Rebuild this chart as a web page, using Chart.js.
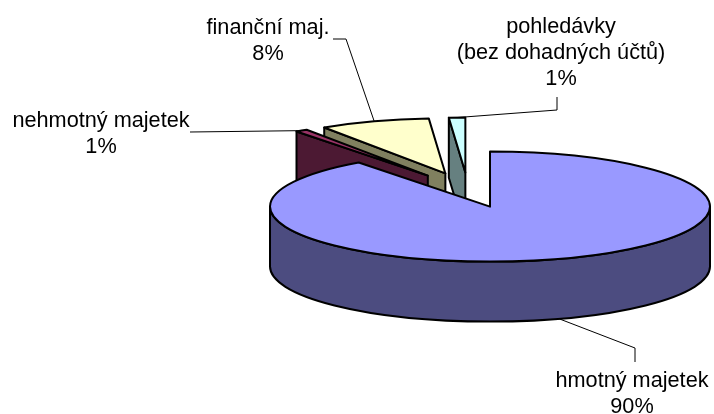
<!DOCTYPE html>
<html>
<head>
<meta charset="utf-8">
<script src="https://cdn.jsdelivr.net/npm/chart.js@4.4.0/dist/chart.umd.min.js"></script>
<style>
  html, body { margin: 0; padding: 0; background: #fff; }
  #wrap { width: 714px; height: 414px; }
</style>
</head>
<body>
<div id="wrap"><canvas id="pie" width="714" height="414"></canvas></div>
<script>
// data
const labels = [['hmotný majetek'], ['nehmotný majetek'], ['finanční maj.'], ['pohledávky', '(bez dohadných účtů)']];
const values = [90.0, 0.9, 8.1, 1.2];
const topColors = ['#9999ff', '#993366', '#ffffcc', '#ccffff'];
const sideColors = ['#4c4c80', '#4c1933', '#80805f', '#668080'];

// 3d look
const TILT = 0.25;     // ry / rx
const DEPTH = 60;      // height of the side walls
const EXPLODE = 70;    // distance of each slice from the center

// label placement : elbow of the leader line, end of the leader, first baseline
const labelLayout = [
  { pts: [[635, 348], [635, 362]], x: 632, y: 387 },
  { pts: [[190, 132]], x: 101, y: 127 },
  { pts: [[346, 39], [333, 39]], x: 268, y: 33.5 },
  { pts: [[557, 110], [557, 97]], x: 561, y: 33 }
];

function drawSlice(ctx, s) {
  const rx = s.outerRadius, ry = rx * TILT;
  const a0 = s.startAngle, a1 = s.endAngle;
  ctx.lineWidth = 2;
  ctx.strokeStyle = '#000';
  ctx.lineJoin = 'round';

  // radial walls (only the ones facing the viewer)
  const wall = a => {
    const ex = s.cx + rx * Math.cos(a), ey = s.cy + ry * Math.sin(a);
    ctx.beginPath();
    ctx.moveTo(s.cx, s.cy);
    ctx.lineTo(ex, ey);
    ctx.lineTo(ex, ey + DEPTH);
    ctx.lineTo(s.cx, s.cy + DEPTH);
    ctx.closePath();
    ctx.fillStyle = sideColors[s.i];
    ctx.fill();
    ctx.stroke();
  };
  if (Math.cos(a0) < -1e-6) wall(a0);
  if (Math.cos(a1) > 1e-6) wall(a1);

  // outer wall, front half only
  for (let k = -1; k <= 2; k++) {
    const lo = Math.max(a0, k * 2 * Math.PI), hi = Math.min(a1, k * 2 * Math.PI + Math.PI);
    if (hi <= lo) continue;
    ctx.beginPath();
    ctx.ellipse(s.cx, s.cy, rx, ry, 0, lo, hi, false);
    ctx.lineTo(s.cx + rx * Math.cos(hi), s.cy + ry * Math.sin(hi) + DEPTH);
    ctx.ellipse(s.cx, s.cy + DEPTH, rx, ry, 0, hi, lo, true);
    ctx.closePath();
    ctx.fillStyle = sideColors[s.i];
    ctx.fill();
    ctx.stroke();
  }

  // top
  ctx.beginPath();
  ctx.moveTo(s.cx, s.cy);
  ctx.ellipse(s.cx, s.cy, rx, ry, 0, a0, a1, false);
  ctx.closePath();
  ctx.fillStyle = topColors[s.i];
  ctx.fill();
  ctx.stroke();
}

function drawLabels(ctx, slices, total) {
  ctx.font = '21.7px "Liberation Sans", Arial, sans-serif';
  ctx.fillStyle = '#000';
  ctx.textAlign = 'center';
  ctx.textBaseline = 'alphabetic';
  slices.forEach(s => {
    const lay = labelLayout[s.i];
    const rx = s.outerRadius, ry = rx * TILT;
    // leader starts on the rim at the middle of the slice
    let sx = s.cx + rx * Math.cos(s.mid), sy = s.cy + ry * Math.sin(s.mid);
    if (Math.sin(s.mid) > 0) sy += DEPTH;
    ctx.beginPath();
    ctx.lineWidth = 1;
    ctx.strokeStyle = '#000';
    ctx.moveTo(sx, sy);
    lay.pts.forEach(p => ctx.lineTo(p[0], p[1]));
    ctx.stroke();
    const lines = labels[s.i].concat([Math.round(values[s.i] / total * 100) + '%']);
    lines.forEach((t, j) => ctx.fillText(t, lay.x, lay.y + j * 26));
  });
}

const pie3d = {
  id: 'pie3d',
  beforeDatasetDraw(chart, args) {
    const ctx = chart.ctx;
    const total = values.reduce((a, b) => a + b, 0);
    const slices = args.meta.data.map((arc, i) => {
      const mid = (arc.startAngle + arc.endAngle) / 2;
      return {
        i: i,
        startAngle: arc.startAngle,
        endAngle: arc.endAngle,
        outerRadius: arc.outerRadius,
        mid: mid,
        cx: arc.x + EXPLODE * Math.cos(mid),
        cy: arc.y + EXPLODE * TILT * Math.sin(mid)
      };
    });
    // back slices first
    const order = slices.slice().sort((a, b) => Math.sin(a.mid) - Math.sin(b.mid));
    ctx.save();
    order.forEach(s => drawSlice(ctx, s));
    drawLabels(ctx, slices, total);
    ctx.restore();
    return false;
  }
};

new Chart(document.getElementById('pie'), {
  type: 'pie',
  data: {
    labels: labels,
    datasets: [{ data: values, backgroundColor: topColors, borderColor: '#000' }]
  },
  options: {
    responsive: false,
    animation: false,
    radius: 220,
    layout: { padding: { left: 222, right: 0, top: 0, bottom: 34 } },
    plugins: { legend: { display: false }, tooltip: { enabled: false } }
  },
  plugins: [pie3d]
});
</script>
</body>
</html>
